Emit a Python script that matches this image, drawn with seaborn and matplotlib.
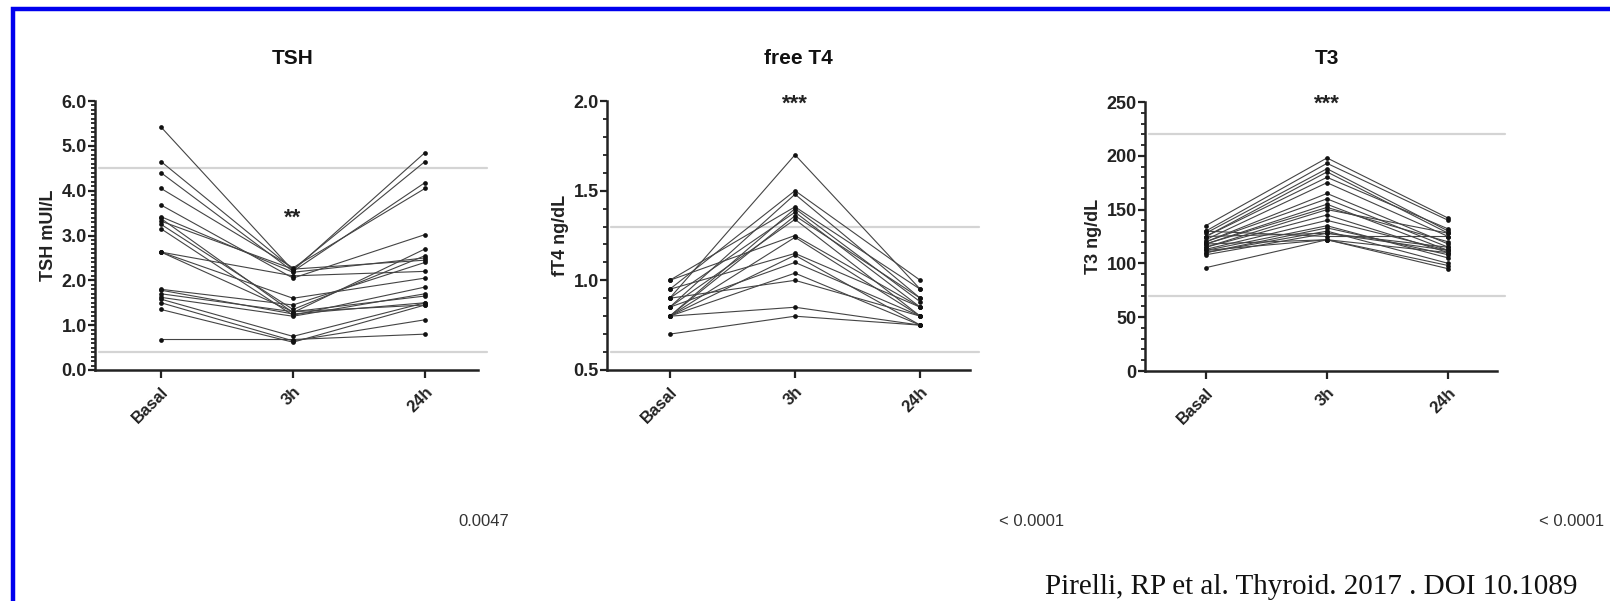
import numpy as np
import pandas as pd
import matplotlib
matplotlib.use("Agg")
import matplotlib.pyplot as plt
import seaborn as sns
from matplotlib.ticker import MultipleLocator, FormatStrFormatter
from matplotlib.patches import Rectangle

# ---------------- data ----------------
times = ["Basal", "3h", "24h"]

tsh_basal = [5.42, 4.65, 4.40, 4.05, 3.68, 3.42, 3.38, 3.32, 3.25, 3.15, 2.63, 2.63, 2.63,
             1.80, 1.78, 1.70, 1.62, 1.58, 1.50, 1.35, 0.68]
tsh_3h    = [2.22, 2.25, 2.20, 2.28, 2.05, 2.18, 1.28, 2.25, 1.35, 1.22, 2.10, 1.60, 1.30,
             1.45, 1.25, 1.30, 1.20, 0.75, 0.65, 0.62, 0.68]
tsh_24h   = [4.85, 4.65, 4.18, 4.05, 3.02, 2.50, 2.70, 2.45, 2.55, 1.85, 2.20, 2.05, 1.65,
             2.40, 1.50, 1.45, 1.70, 1.50, 1.12, 1.45, 0.80]

ft4_basal = [0.90, 0.95, 0.85, 1.00, 0.80, 0.90, 0.80, 0.85, 1.00, 0.80, 0.95, 0.80, 0.85,
             0.80, 0.90, 0.80, 0.70]
ft4_3h    = [1.70, 1.50, 1.48, 1.41, 1.40, 1.38, 1.36, 1.34, 1.25, 1.24, 1.15, 1.14, 1.10,
             1.04, 1.00, 0.85, 0.80]
ft4_24h   = [0.95, 1.00, 0.90, 0.95, 0.88, 0.85, 0.90, 0.80, 0.85, 0.80, 0.85, 0.75, 0.80,
             0.75, 0.80, 0.75, 0.75]

t3_basal = [135, 130, 128, 125, 125, 122, 120, 120, 118, 118, 115, 115, 113, 112, 110, 110,
            108, 125, 130, 118, 112, 96]
t3_3h    = [198, 193, 188, 185, 180, 175, 165, 160, 155, 152, 150, 145, 140, 135, 133, 130,
            128, 128, 125, 122, 122, 122]
t3_24h   = [142, 140, 130, 128, 132, 125, 118, 115, 112, 120, 128, 110, 112, 105, 108, 100,
            112, 115, 125, 110, 98, 95]

titles = ["TSH", "free T4", "T3"]
ylabels = ["TSH mUI/L", "fT4 ng/dL", "T3 ng/dL"]
stars = ["**", "***", "***"]
star_y = [3.38, 1.98, 248]
ref_ranges = [(0.4, 4.5), (0.6, 1.3), (70, 220)]
pvalues = ["0.0047", "< 0.0001", "< 0.0001"]
citation = "Pirelli, RP et al. Thyroid. 2017 . DOI 10.1089"

series = [(tsh_basal, tsh_3h, tsh_24h), (ft4_basal, ft4_3h, ft4_24h), (t3_basal, t3_3h, t3_24h)]


def long_frame(b, h3, h24):
    rows = []
    for i, vals in enumerate(zip(b, h3, h24)):
        for t, v in zip(times, vals):
            rows.append({"subject": i, "time": t, "value": v})
    df = pd.DataFrame(rows)
    df["pos"] = df["time"].map({t: k for k, t in enumerate(times)})
    return df


# ---------------- figure ----------------
sns.set_theme(style="ticks")
plt.rcParams["font.family"] = ["Liberation Sans", "DejaVu Sans"]

W, H = 1610, 601
fig = plt.figure(figsize=(W / 100, H / 100), dpi=100)
fig.patch.set_facecolor("white")

# axes geometry (pixels from left / top)
lefts = [95, 607, 1145]
widths = [396, 376, 364]
tops = [101, 101, 102]
bottoms = [370, 370, 371]
ylims = [(0, 6.0), (0.5, 2.0), (0, 250)]
majors = [1.0, 0.5, 50]
minors = [0.1, 0.1, 10]
fmts = ["%.1f", "%.1f", "%d"]
title_x = [293, 798, 1327]

for k in range(3):
    l, w, t, b = lefts[k], widths[k], tops[k], bottoms[k]
    ax = fig.add_axes([l / W, (H - b) / H, w / W, (b - t) / H])
    ax.set_facecolor("white")
    df = long_frame(*series[k])

    lo, hi = ref_ranges[k]
    for yv in (lo, hi):
        ax.plot([-0.47, 2.47], [yv, yv], color="#d4d4d4", lw=1.6, zorder=1,
                clip_on=False)

    sns.lineplot(data=df, x="pos", y="value", units="subject", estimator=None,
                 color="#444444", lw=0.8, marker="o", markersize=3.4,
                 markeredgewidth=0, markerfacecolor="#111111", ax=ax,
                 legend=False, zorder=3)

    ax.set_xlim(-0.5, 2.5)
    ax.set_ylim(*ylims[k])
    ax.set_xticks(range(3))
    ax.set_xticklabels(times, rotation=45, ha="right", rotation_mode="anchor",
                       fontsize=12, fontweight="bold")
    ax.yaxis.set_major_locator(MultipleLocator(majors[k]))
    ax.yaxis.set_minor_locator(MultipleLocator(minors[k]))
    ax.yaxis.set_major_formatter(FormatStrFormatter(fmts[k]))
    for lab in ax.get_yticklabels():
        lab.set_fontweight("bold")
        lab.set_fontsize(13)
    ax.tick_params(axis="y", which="major", length=5, width=1.6, pad=1, colors="#222")
    ax.tick_params(axis="y", which="minor", length=3, width=1.3, colors="#222")
    ax.tick_params(axis="x", which="major", length=6, width=1.6, pad=4, colors="#222")
    ax.set_xlabel("")
    ax.set_ylabel(ylabels[k], fontsize=13, fontweight="bold", color="#222", labelpad=3)
    sns.despine(ax=ax)
    for sp in ("left", "bottom"):
        ax.spines[sp].set_linewidth(1.8)
        ax.spines[sp].set_color("#222")
    ax.spines["bottom"].set_bounds(-0.5, 2.4)

    ax.text(1, star_y[k], stars[k], ha="center", va="center", fontsize=16,
            fontweight="bold", color="#222")

    fig.text(title_x[k] / W, 1 - 58 / H, titles[k], ha="center", va="center",
             fontsize=15, fontweight="bold", color="#111")

# p-values
fig.text(484 / W, 1 - 521 / H, pvalues[0], ha="center", va="center", fontsize=12,
         color="#333")
fig.text(1032 / W, 1 - 521 / H, pvalues[1], ha="center", va="center", fontsize=12,
         color="#333")
fig.text(1604 / W, 1 - 521 / H, pvalues[2], ha="right", va="center", fontsize=12,
         color="#333")

# citation at the bottom edge
fig.text(1045 / W, 1 - 594 / H, citation, ha="left", va="baseline", fontsize=21,
         family=["Liberation Serif", "DejaVu Serif"], color="#111")

# blue frame (top and left edges)
fig.patches.append(Rectangle((13 / W, -0.2), 1.2, (H - 9) / H + 0.2,
                             transform=fig.transFigure, fill=False,
                             edgecolor="#0000ee", lw=3.2, zorder=10))

fig.savefig("out.png", dpi=100, facecolor="white")
